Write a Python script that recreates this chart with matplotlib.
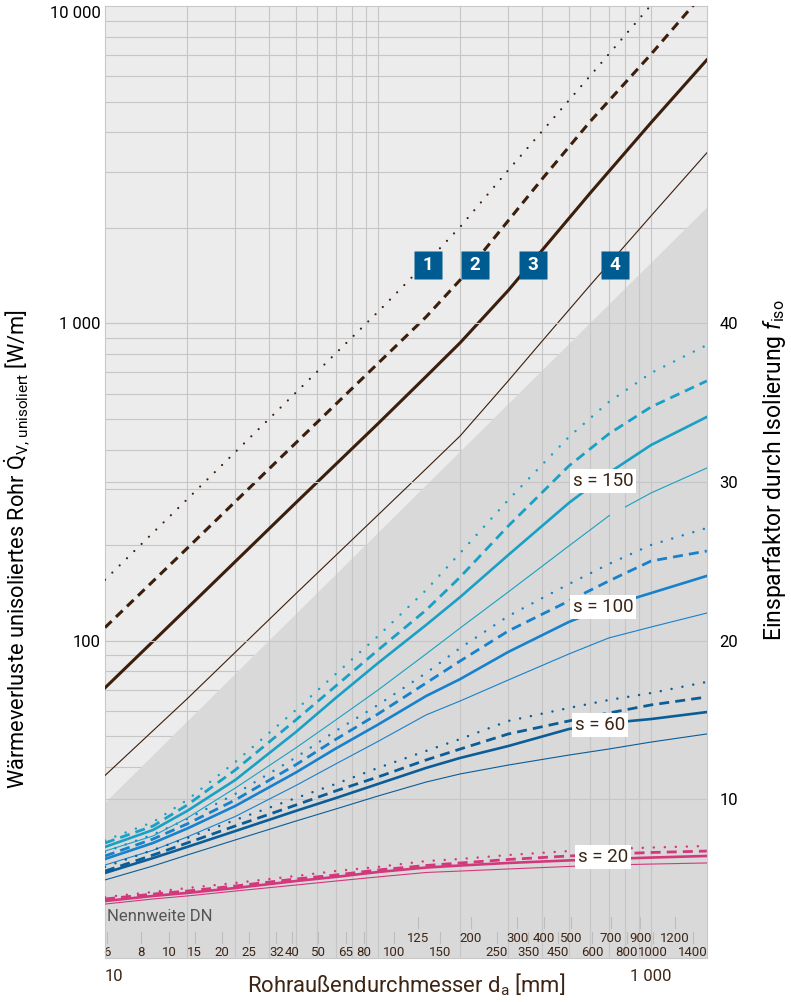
import numpy as np
import matplotlib
matplotlib.use("Agg")
import matplotlib.pyplot as plt
from matplotlib.ticker import NullLocator
from matplotlib.patches import Rectangle

FONT = "Roboto"
plt.rcParams['font.family'] = [FONT, 'DejaVu Sans']
plt.rcParams['mathtext.fontset'] = 'custom'
plt.rcParams['mathtext.rm'] = FONT
plt.rcParams['mathtext.it'] = FONT + ':italic'

# ---------------- data ----------------
# upper curves: heat loss of uninsulated pipe [W/m] vs outer diameter [mm]
D_UP = [10, 20, 50, 100, 150, 200, 300, 400, 600, 1000, 1600]
Q1 = [155.6, 279, 605, 1087, 1551, 2014, 3040, 4040, 6042, 10070, 16100]
Q2 = [110, 195.5, 420, 748, 1048, 1371, 2107, 2857, 4337, 7047, 11275]
Q3 = [71, 126.5, 272, 483, 680, 869, 1270, 1704, 2580, 4290, 6761]
Q4 = [37.6, 65.6, 140.6, 249, 348, 442, 659, 881, 1322, 2181, 3444]

# lower curves: saving factor f_iso for insulation thickness s
D_LOW = [10, 15, 20, 30, 50, 70, 100, 150, 200, 300, 500, 700, 1000, 1600]
S150_DOT = [7.41, 8.57, 9.96, 12.35, 15.63, 17.90, 20.29, 23.19, 25.53, 28.87, 32.84, 35.04, 36.87, 38.63]
S150_DASH = [7.25, 8.32, 9.64, 11.85, 15.00, 17.14, 19.41, 21.93, 24.01, 27.23, 31.01, 33.03, 34.73, 36.37]
S150_SOL = [7.00, 8.07, 9.27, 11.22, 14.24, 16.39, 18.59, 20.99, 22.75, 25.40, 28.68, 30.57, 32.33, 34.10]
S150_THIN = [6.74, 7.69, 8.82, 10.71, 13.24, 15.00, 16.89, 19.16, 20.80, 23.07, 25.97, 27.86, 29.31, 30.88]
S150_THIN_GAP = (706, 805)   # interrupted part of the thin s=150 curve
S100_DOT = [6.68, 7.78, 8.76, 10.34, 12.64, 14.31, 15.95, 17.96, 19.54, 21.55, 23.57, 24.83, 26.03, 27.10]
S100_DASH = [6.43, 7.50, 8.45, 9.96, 12.18, 13.78, 15.38, 17.33, 18.72, 20.61, 22.50, 23.76, 25.02, 25.65]
S100_SOL = [6.24, 7.25, 8.16, 9.58, 11.69, 13.20, 14.71, 16.51, 17.58, 19.29, 21.18, 22.18, 23.00, 24.08]
S100_THIN = [5.86, 6.79, 7.63, 8.92, 10.87, 12.23, 13.65, 15.32, 16.20, 17.52, 19.16, 20.17, 20.86, 21.74]
S60_DOT = [5.74, 6.81, 7.56, 8.70, 10.08, 10.97, 11.98, 13.05, 13.80, 14.94, 15.76, 16.26, 16.70, 17.40]
S60_DASH = [5.48, 6.49, 7.25, 8.32, 9.64, 10.53, 11.41, 12.48, 13.17, 14.12, 14.94, 15.44, 15.95, 16.45]
S60_SOL = [5.36, 6.30, 7.00, 8.00, 9.27, 10.08, 10.97, 11.98, 12.61, 13.36, 14.43, 14.81, 15.06, 15.50]
S60_THIN = [4.92, 5.80, 6.49, 7.44, 8.63, 9.39, 10.21, 11.09, 11.60, 12.16, 12.79, 13.17, 13.61, 14.12]
S20_DOT = [3.84, 4.16, 4.41, 4.73, 5.17, 5.48, 5.74, 6.11, 6.24, 6.49, 6.74, 6.87, 6.96, 7.06]
S20_DASH = [3.72, 4.03, 4.22, 4.54, 4.98, 5.23, 5.55, 5.83, 5.99, 6.21, 6.43, 6.55, 6.65, 6.74]
S20_SOL = [3.59, 3.91, 4.10, 4.41, 4.85, 5.11, 5.42, 5.70, 5.83, 5.99, 6.15, 6.24, 6.33, 6.43]
S20_THIN = [3.40, 3.72, 3.91, 4.22, 4.60, 4.85, 5.11, 5.39, 5.48, 5.61, 5.77, 5.86, 5.92, 5.99]

# shaded region boundary (log-log straight line)
SHADE_D = [10, 1603]
SHADE_Q = [31, 2330]

# labels
CURVE_LABELS = ['1', '2', '3', '4']
CURVE_LABEL_D = [152.6, 227, 369, 737]
CURVE_LABEL_Q = 1529
S_LABELS = ['s = 150', 's = 100', 's = 60', 's = 20']
S_LABEL_D = [667, 667, 650, 667]
S_LABEL_F = [30.06, 22.12, 14.68, 6.37]

# nominal sizes DN and outer diameters
DN_TOP = ['125', '200', '300', '400', '500', '700', '900', '1200']
DA_TOP = [139.7, 219.1, 323.9, 406.4, 508, 711, 914, 1219]
DN_BOT = ['6', '8', '10', '15', '20', '25', '32', '40', '50', '65', '80', '100',
          '150', '250', '350', '450', '600', '800', '1000', '1400']
DA_BOT = [10.2, 13.5, 17.2, 21.3, 26.9, 33.7, 42.4, 48.3, 60.3, 76.1, 88.9, 114.3,
          168.3, 273, 355.6, 457, 610, 813, 1016, 1422]

# ---------------- styling ----------------
BROWN = '#3b1e0c'
TXT_BROWN = '#3d2515'
C150 = '#1aa0c4'
C100 = '#1681cc'
C60 = '#0b5d97'
C20 = '#d4387c'
BOXBLUE = '#005b91'
LIGHT = '#ececec'
DARK = '#d9d9d9'
GRID = '#c6c6c6'

fig = plt.figure(figsize=(7.91, 10.02), dpi=100)
ax = fig.add_axes([105/791, 44/1002, 602/791, 952/1002])
ax.set_xscale('log')
ax.set_yscale('log')
ax.set_xlim(10, 1603)
ax.set_ylim(10, 10000)
ax.set_facecolor(LIGHT)

# horizontal log grid (only visible in light area)
for dec in [10, 100, 1000]:
    for m in range(1, 10):
        v = dec * m
        if 10 < v < 10000:
            ax.axhline(v, color=GRID, lw=0.8, zorder=0.2)

ax.fill_between(SHADE_D, 10, SHADE_Q, color=DARK, lw=0, zorder=0.4)

# vertical grid
for v in list(range(20, 100, 10)) + list(range(100, 1001, 100)):
    ax.axvline(v, color=GRID, lw=0.8, zorder=0.6)

# upper curves
ax.plot(D_UP, Q1, color=BROWN, lw=1.6, linestyle=(0, (0.01, 4.6)),
        dash_capstyle='round', zorder=3)
ax.plot(D_UP, Q2, color=BROWN, lw=2.2, linestyle=(0, (3.0, 2.0)), zorder=3)
ax.plot(D_UP, Q3, color=BROWN, lw=2.2, zorder=3)
ax.plot(D_UP, Q4, color=BROWN, lw=0.8, zorder=3)

for lab, d in zip(CURVE_LABELS, CURVE_LABEL_D):
    ax.plot([d], [CURVE_LABEL_Q], marker='s', ms=20, color=BOXBLUE, mec='none', zorder=5)
    ax.text(d, CURVE_LABEL_Q, lab, color='white', fontsize=13.5, fontweight='bold',
            ha='center', va='center', zorder=6)

# axes ticks
ax.yaxis.set_minor_locator(NullLocator())
ax.xaxis.set_minor_locator(NullLocator())
ax.set_yticks([100, 1000, 10000], labels=['100', '1 000', '10 000'])
ax.set_xticks([10, 1000], labels=['10', '1 000'])
ax.tick_params(length=0, labelsize=12, pad=3)
ax.tick_params(axis='x', pad=8, colors=TXT_BROWN)
ax.get_xticklabels()[0].set_ha('left')
ax.get_yticklabels()[2].set_va('top')
for sp in ax.spines.values():
    sp.set_color('#c8c8c8')
    sp.set_linewidth(0.8)

# DN band
trans = ax.get_xaxis_transform()
for lab, d in zip(DN_TOP, DA_TOP):
    ax.plot([d, d], [0.032, 0.043], transform=trans, color='#bdbdbd', lw=0.8, zorder=2)
    ax.text(d, 0.0205, lab, transform=trans, ha='center', va='center',
            fontsize=9.5, color=TXT_BROWN, zorder=2)
for lab, d in zip(DN_BOT, DA_BOT):
    ax.plot([d, d], [0.016, 0.027], transform=trans, color='#bdbdbd', lw=0.8, zorder=2)
    ax.text(d, 0.0063, lab, transform=trans, ha='center', va='center',
            fontsize=9.5, color=TXT_BROWN, zorder=2)
ax.text(10.2, 0.044, 'Nennweite DN', transform=trans, ha='left', va='center',
        fontsize=12, color='#555555', zorder=2)

# right axis
ax2 = ax.twinx()
ax2.set_ylim(0, 60)
ax2.set_yticks([10, 20, 30, 40])
ax2.tick_params(length=0, labelsize=12, pad=9)
for sp in ax2.spines.values():
    sp.set_visible(False)
for f in [10, 20, 30, 40]:
    ax2.axhline(f, color=GRID, lw=0.8, zorder=0.5)

def dotted(y, c):
    return ax2.plot(D_LOW, y, color=c, lw=1.8, linestyle=(0, (0.01, 4.4)),
                    dash_capstyle='round', zorder=3)

def dashed(y, c):
    return ax2.plot(D_LOW, y, color=c, lw=2.0, linestyle=(0, (3.6, 2.2)), zorder=3)

def solid(y, c):
    return ax2.plot(D_LOW, y, color=c, lw=1.9, zorder=3)

def thin(y, c):
    return ax2.plot(D_LOW, y, color=c, lw=0.8, zorder=3)

for c, (a, b, s, t) in [(C150, (S150_DOT, S150_DASH, S150_SOL, None)),
                        (C100, (S100_DOT, S100_DASH, S100_SOL, S100_THIN)),
                        (C60, (S60_DOT, S60_DASH, S60_SOL, S60_THIN)),
                        (C20, (S20_DOT, S20_DASH, S20_SOL, S20_THIN))]:
    dotted(a, c)
    dashed(b, c)
    solid(s, c)
    if t is not None:
        thin(t, c)

# thin s=150 curve drawn in two pieces (interrupted in the original)
g0, g1 = S150_THIN_GAP
for lo, hi in [(D_LOW[0], g0), (g1, D_LOW[-1])]:
    ln, = thin(S150_THIN, C150)
    ln.set_clip_path(Rectangle((lo, 0), hi - lo, 60, transform=ax2.transData))

for lab, d, f in zip(S_LABELS, S_LABEL_D, S_LABEL_F):
    ax2.text(d, f, lab, ha='center', va='center', fontsize=13.5, color=TXT_BROWN,
             zorder=6, bbox=dict(boxstyle='square,pad=0.15', fc='white', ec='none'))

# axis titles
fig.text(406/791, 1 - 985/1002, 'Rohraußendurchmesser d$_\\mathrm{a}$ [mm]',
         ha='center', va='center', fontsize=15.8, color=TXT_BROWN)
fig.text(17/791, 1 - 549/1002,
         'Wärmeverluste unisoliertes Rohr $\\dot{\\mathrm{Q}}_{\\mathrm{V,\\,unisoliert}}$ [W/m]',
         ha='center', va='center', rotation=90, fontsize=15.7, color='black')
fig.text(775/791, 1 - 470/1002, 'Einsparfaktor durch Isolierung $f_{\\mathrm{iso}}$',
         ha='center', va='center', rotation=90, fontsize=16.5, color='black')

fig.savefig('out.png', dpi=100)
